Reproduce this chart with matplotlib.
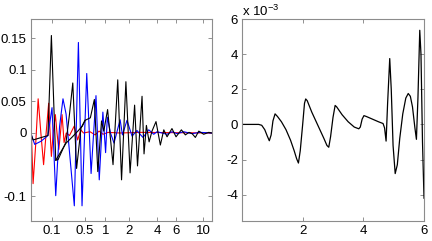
import numpy as np
import matplotlib
matplotlib.use("Agg")
import matplotlib.pyplot as plt

plt.rcParams['font.family'] = ['Liberation Sans', 'DejaVu Sans']
plt.rcParams['font.size'] = 9.5
plt.rcParams['axes.unicode_minus'] = False
plt.rcParams['mathtext.fontset'] = 'custom'
plt.rcParams['mathtext.rm'] = 'Liberation Sans'

# left panel: x is position along the (non-uniform) axis, 0..100
xtick_pos = [11.75, 29.7, 41.1, 54.1, 69.7, 80.3, 95.0]
xtick_labels = ['0.1', '0.5', '1', '2', '4', '6', '10']
ytick_vals = [-0.1, 0, 0.05, 0.1, 0.15]
ytick_labels = ['-0.1', '0', '0.05', '0.1', '0.15']

red_x = [0, 0.5, 1.3, 2.7, 4.1, 5.6, 7.1, 8.5, 9.9, 10.7, 11.4, 12.4, 13.6, 14.5,
         15.5, 16.4, 17.3, 18.4, 19.6, 21.4, 24.0, 25.9, 27.6, 29.1, 32.7, 35.5,
         37.7, 39.9, 42.6, 49.3, 60.3, 100]
red_y = [0, -0.012, -0.080, -0.02, 0.054, 0.0, -0.050, 0.0, 0.047, 0.0, -0.037, 0.0,
         0.029, 0.0, -0.026, 0.0, 0.029, -0.015, 0.0, -0.004, 0.011, -0.011, 0.005,
         0.0, 0.002, -0.003, 0.003, -0.002, 0.001, 0.0, 0.001, 0]

blue_x = [0, 2.2, 5.7, 9.5, 11.75, 13.8, 15.9, 17.8, 19.5, 21.7, 24.05, 26.3, 28.3,
          30.9, 33.3, 36.0, 37.8, 39.8, 41.3, 42.25, 44.0, 45.95, 49.3, 50.6, 53.1,
          55.9, 58.6, 60.3, 61.95, 65.1, 67.85, 69.7, 72.4, 75.2, 77.9, 80.7, 84.4,
          89.0, 93.4, 100]
blue_y = [0, -0.018, -0.013, -0.004, 0.04, -0.099, 0.01, 0.054, 0.03, -0.04, -0.115,
          0.143, -0.115, 0.094, -0.064, 0.059, -0.074, 0.033, -0.031, 0.025, 0.0,
          -0.016, 0.021, -0.003, 0.02, -0.005, 0.004, -0.002, -0.007, 0.005, -0.002,
          0.002, 0.0, -0.002, 0.002, -0.001, 0.002, -0.001, 0.001, 0]

black_x = [0, 1.3, 9.5, 11.4, 13.8, 15.1, 19.5, 21.4, 23.2, 25.3, 27.75, 29.95, 32.9,
           35.1, 37.0, 39.05, 40.3, 42.4, 45.4, 48.0, 50.1, 52.5, 54.8, 57.3, 58.9,
           61.4, 62.5, 63.8, 65.3, 66.9, 69.1, 71.5, 73.4, 75.2, 77.9, 80.15, 83.1,
           85.3, 87.3, 89.0, 90.8, 92.7, 95.4, 98.2, 100]
black_y = [0, -0.011, -0.004, 0.154, -0.043, -0.042, -0.014, 0.03, 0.079, -0.056, 0.008,
           0.02, 0.024, 0.053, -0.061, 0.019, 0.003, 0.037, -0.05, 0.084, -0.074, 0.081,
           -0.063, 0.044, -0.052, 0.058, -0.033, 0.012, -0.014, 0.003, 0.018, -0.019,
           0.005, -0.006, 0.007, -0.006, 0.005, -0.003, 0.001, -0.001, -0.007, 0.003,
           -0.002, 0.001, 0]

black2_x = [13.8, 19.5, 23.0, 26.0, 28.5, 30.0]
black2_y = [-0.043, -0.016, -0.006, 0.003, 0.011, 0.02]

# right panel (values in units of 1e-3)
r_x = [0, 0.3, 0.55, 0.65, 0.75, 0.83, 0.9, 0.96, 1.02, 1.09, 1.17, 1.3, 1.45, 1.6,
       1.72, 1.8, 1.86, 1.92, 2.0, 2.06, 2.1, 2.15, 2.3, 2.5, 2.7, 2.8, 2.86, 2.92,
       3.0, 3.07, 3.12, 3.3, 3.5, 3.7, 3.85, 3.9, 3.96, 4.02, 4.1, 4.3, 4.5, 4.65,
       4.7, 4.75, 4.8, 4.87, 4.92, 4.98, 5.05, 5.12, 5.2, 5.3, 5.4, 5.48, 5.55, 5.62,
       5.7, 5.75, 5.8, 5.86, 5.9, 5.95, 6.0]
r_y = [0, 0, 0, -0.05, -0.3, -0.65, -0.93, -0.6, 0.2, 0.6, 0.45, 0.15, -0.3, -0.9,
       -1.5, -1.95, -2.2, -1.5, 0.0, 1.2, 1.45, 1.35, 0.7, -0.05, -0.8, -1.2, -1.3,
       -0.7, 0.4, 1.08, 1.0, 0.55, 0.15, -0.15, -0.25, -0.15, 0.3, 0.5, 0.45, 0.3,
       0.15, 0.05, -0.2, -0.95, 1.2, 3.75, 2.0, -1.2, -2.8, -2.3, -0.8, 0.6, 1.5,
       1.76, 1.6, 1.0, -0.2, -0.85, 1.5, 5.36, 4.0, -1.0, -4.2]

fig = plt.figure(figsize=(4.32, 2.41), dpi=100)
ax1 = fig.add_axes([0.0711, 0.083, 0.4197, 0.838])
ax2 = fig.add_axes([0.5602, 0.083, 0.4213, 0.838])

ax1.plot(red_x, red_y, color='red', lw=0.8)
ax1.plot(blue_x, blue_y, color='blue', lw=0.8)
ax1.plot(black_x, black_y, color='black', lw=0.8)
ax1.plot(black2_x, black2_y, color='black', lw=0.8)
ax1.set_xlim(0, 100)
ax1.set_ylim(-0.139, 0.18)
ax1.set_xticks(xtick_pos)
ax1.set_xticklabels(xtick_labels)
ax1.set_yticks(ytick_vals)
ax1.set_yticklabels(ytick_labels)

ax2.plot(r_x, r_y, color='black', lw=0.9)
ax2.set_xlim(0, 6)
ax2.set_ylim(-5.5, 6)
ax2.set_xticks([2, 4, 6])
ax2.set_yticks([-4, -2, 0, 2, 4, 6])
ax2.text(0, 1.0, r'x 10$^{-3}$', transform=ax2.transAxes, ha='left', va='bottom',
         fontsize=9.5)

for ax in (ax1, ax2):
    ax.tick_params(direction='in', length=3, width=0.6, color='0.5',
                   top=True, right=True, pad=3)
    for s in ax.spines.values():
        s.set_color('0.55')
        s.set_linewidth(0.8)

fig.savefig('out.png', dpi=100)
